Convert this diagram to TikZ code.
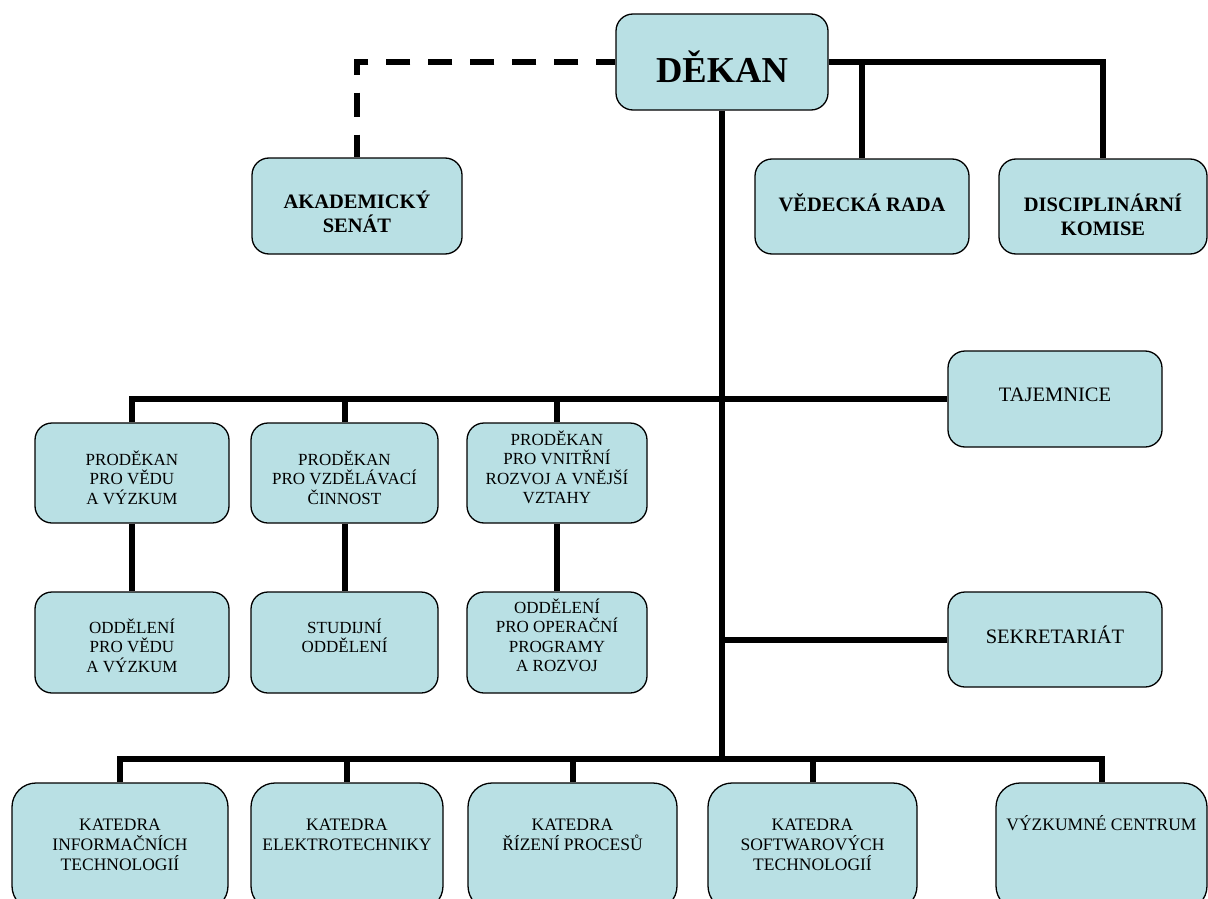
\documentclass[tikz,border=0pt]{standalone}
\usepackage{fontspec}
\setmainfont{Liberation Serif}
\definecolor{boxfill}{RGB}{185,224,228}
\newcommand\firstln{\rule{0pt}{1em}}
\begin{document}
\begin{tikzpicture}[x=1pt,y=-1pt,
  box/.style={draw=black, line width=1.3pt, fill=boxfill, rounded corners=17pt, inner sep=0pt},
  kbox/.style={box, rounded corners=24pt},
  conn/.style={line width=6pt, line join=miter},
  dconn/.style={conn, dash pattern=on 24pt off 18pt, dash phase=5pt},
  txt/.style={anchor=north, align=center, inner sep=0pt, font={\fontsize{17}{19.5}\selectfont}},
  ktxt/.style={txt, font={\fontsize{17.5}{20}\selectfont}},
  btxt/.style={txt, font={\fontsize{20.5}{24}\selectfont\bfseries}},
  mtxt/.style={txt, font={\fontsize{20.5}{24}\selectfont}},
]
\useasboundingbox (0,0) rectangle (1208,899);
\clip (0,0) rectangle (1208,899);

% boxes
\node[box, minimum width=212pt, minimum height=96pt] (dekan) at (722,62) {};
\node[box, minimum width=210pt, minimum height=96pt] (senat) at (357,206) {};
\node[box, minimum width=214pt, minimum height=95pt] (vrada) at (862,206.5) {};
\node[box, minimum width=208pt, minimum height=95pt] (dkom) at (1103,206.5) {};
\node[box, minimum width=214pt, minimum height=96pt] (taj) at (1055,399) {};
\node[box, minimum width=214pt, minimum height=95pt] (sekr) at (1055,639.5) {};
\node[box, minimum width=194pt, minimum height=100pt] (p1) at (132,473) {};
\node[box, minimum width=187pt, minimum height=100pt] (p2) at (344.5,473) {};
\node[box, minimum width=180pt, minimum height=100pt] (p3) at (557,473) {};
\node[box, minimum width=194pt, minimum height=101pt] (o1) at (132,642.5) {};
\node[box, minimum width=187pt, minimum height=101pt] (o2) at (344.5,642.5) {};
\node[box, minimum width=180pt, minimum height=101pt] (o3) at (557,642.5) {};
\node[kbox, minimum width=216pt, minimum height=127pt] (k1) at (120,846.5) {};
\node[kbox, minimum width=192pt, minimum height=127pt] (k2) at (347,846.5) {};
\node[kbox, minimum width=209pt, minimum height=127pt] (k3) at (572.5,846.5) {};
\node[kbox, minimum width=209pt, minimum height=127pt] (k4) at (812.5,846.5) {};
\node[kbox, minimum width=211pt, minimum height=127pt] (k5) at (1101.5,846.5) {};

% texts
\node[txt, font={\fontsize{36.5}{40}\selectfont\bfseries}] (dekan-t) at (722,45.5) {\firstln DĚKAN};
\node[btxt] (senat-t) at (357,187.5) {\firstln AKADEMICKÝ\\SENÁT};
\node[btxt] (vrada-t) at (862,190.5) {\firstln VĚDECKÁ RADA};
\node[btxt] (dkom-t) at (1103,190.5) {\firstln DISCIPLINÁRNÍ\\KOMISE};
\node[mtxt] (taj-t) at (1055,380.5) {\firstln TAJEMNICE};
\node[mtxt] (sekr-t) at (1055,622.5) {\firstln SEKRETARIÁT};
\node[txt] (p1-t) at (132,448) {\firstln PRODĚKAN\\PRO VĚDU\\A VÝZKUM};
\node[txt] (p2-t) at (344.5,448) {\firstln PRODĚKAN\\PRO VZDĚLÁVACÍ\\ČINNOST};
\node[txt] (p3-t) at (557,428) {\firstln PRODĚKAN\\PRO VNITŘNÍ\\ROZVOJ A VNĚJŠÍ\\VZTAHY};
\node[txt] (o1-t) at (132,616) {\firstln ODDĚLENÍ\\PRO VĚDU\\A VÝZKUM};
\node[txt] (o2-t) at (344.5,616) {\firstln STUDIJNÍ\\ODDĚLENÍ};
\node[txt] (o3-t) at (557,596) {\firstln ODDĚLENÍ\\PRO OPERAČNÍ\\PROGRAMY\\A ROZVOJ};
\node[ktxt] (k1-t) at (120,812.5) {\firstln KATEDRA\\INFORMAČNÍCH\\TECHNOLOGIÍ};
\node[ktxt] (k2-t) at (347,812.5) {\firstln KATEDRA\\ELEKTROTECHNIKY};
\node[ktxt] (k3-t) at (572.5,812.5) {\firstln KATEDRA\\ŘÍZENÍ PROCESŮ};
\node[ktxt] (k4-t) at (812.5,812.5) {\firstln KATEDRA\\SOFTWAROVÝCH\\TECHNOLOGIÍ};
\node[ktxt] (k5-t) at (1101.5,812.5) {\firstln VÝZKUMNÉ CENTRUM};

% connectors
\coordinate (bar) at (722,759);
\draw[dconn] (dekan.west) -| (senat.north);
\draw[conn] (dekan.east) -| (dkom.north);
\draw[conn] (vrada.north) -- (vrada.north |- dekan.east);
\draw[conn] (dekan.south) -- (bar);
\draw[conn] (p1.north) |- (taj.west);
\draw[conn] (p2.north) -- (p2.north |- taj.west);
\draw[conn] (p3.north) -- (p3.north |- taj.west);
\draw[conn] (p1.south) -- (o1.north);
\draw[conn] (p2.south) -- (o2.north);
\draw[conn] (p3.south) -- (o3.north);
\draw[conn] (sekr.west) -- (sekr.west -| bar);
\draw[conn] (k1.north) |- (bar) -| (k5.north);
\draw[conn] (k2.north) -- (k2.north |- bar);
\draw[conn] (k3.north) -- (k3.north |- bar);
\draw[conn] (k4.north) -- (k4.north |- bar);
\end{tikzpicture}
\end{document}
